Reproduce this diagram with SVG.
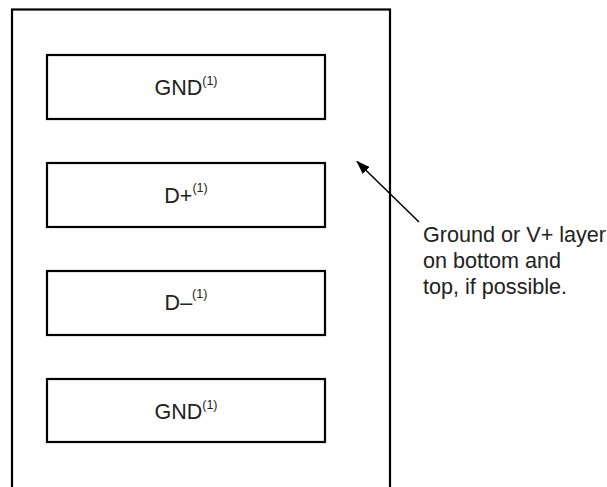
<svg xmlns="http://www.w3.org/2000/svg" width="607" height="487" viewBox="0 0 607 487">
<style>
.frame{fill:none;stroke:#000;stroke-width:2.2}
.box{fill:#fff;stroke:#000;stroke-width:2.2}
.lbl{font-family:"Liberation Sans",Arial,sans-serif;font-size:21.5px;fill:#222;text-anchor:middle}
.sup{font-size:12.5px}
.note{font-family:"Liberation Sans",Arial,sans-serif;font-size:21.6px;fill:#222}
.conn{stroke:#000;stroke-width:1.5;fill:none}
</style>
<defs>
<marker id="ah" markerWidth="14" markerHeight="10" refX="13" refY="5" orient="auto" markerUnits="userSpaceOnUse">
<path d="M0,0 L14,5 L0,10 Z" fill="#000"/>
</marker>
</defs>
<g id="board">
<rect class="frame" x="12" y="9.5" width="378" height="490"/>
</g>
<g id="gnd-top">
<rect class="box" x="47" y="55" width="278" height="64"/>
<text class="lbl" x="186" y="94.5">GND<tspan class="sup" dy="-10">(1)</tspan></text>
</g>
<g id="dplus">
<rect class="box" x="47" y="163" width="278" height="64"/>
<text class="lbl" x="186" y="202.5">D+<tspan class="sup" dy="-11">(1)</tspan></text>
</g>
<g id="dminus">
<rect class="box" x="47" y="271" width="278" height="64"/>
<text class="lbl" x="186" y="310">D–<tspan class="sup" dy="-12">(1)</tspan></text>
</g>
<g id="gnd-bottom">
<rect class="box" x="47" y="379" width="278" height="63"/>
<text class="lbl" x="186" y="418.5">GND<tspan class="sup" dy="-10">(1)</tspan></text>
</g>
<g id="note">
<text class="note" x="423" y="242">Ground or V+ layer</text>
<text class="note" x="423" y="268">on bottom and</text>
<text class="note" x="423" y="294">top, if possible.</text>
</g>
<g id="connectors">
<line class="conn" x1="419" y1="222" x2="357" y2="161.5" marker-end="url(#ah)"/>
</g>
</svg>
